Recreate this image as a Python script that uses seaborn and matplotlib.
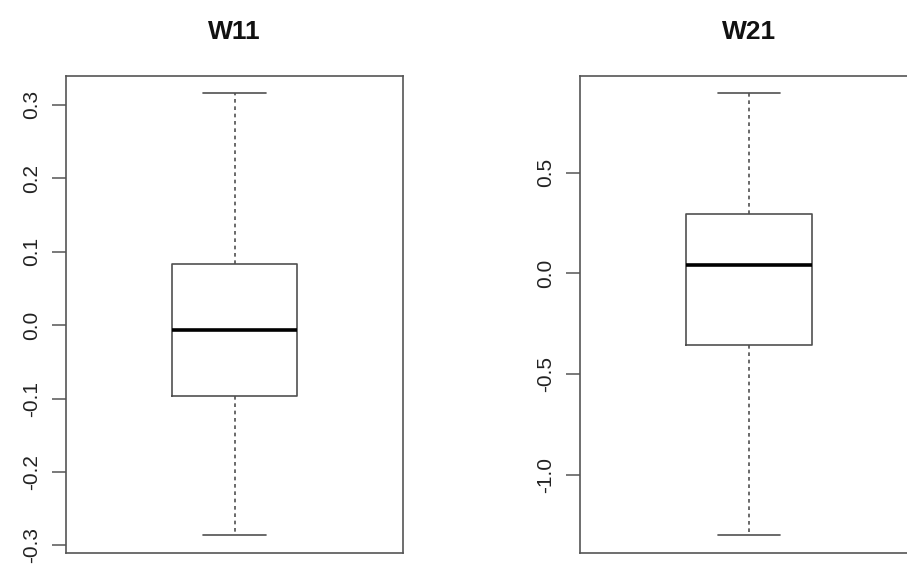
import matplotlib
matplotlib.use("Agg")
import matplotlib.pyplot as plt
import seaborn as sns
import pandas as pd

# ---- data -----------------------------------------------------------------
titles = ["W11", "W21"]
# five-number summaries (min, q1, median, q3, max)
w11_values = [-0.286, -0.096, -0.006, 0.083, 0.316]
w21_values = [-1.30, -0.357, 0.04, 0.293, 0.895]
w11_ticks = [-0.3, -0.2, -0.1, 0.0, 0.1, 0.2, 0.3]
w11_labels = ["-0.3", "-0.2", "-0.1", "0.0", "0.1", "0.2", "0.3"]
w21_ticks = [-1.0, -0.5, 0.0, 0.5]
w21_labels = ["-1.0", "-0.5", "0.0", "0.5"]

sns.set_style("white")
plt.rcParams["font.family"] = ["Liberation Sans", "DejaVu Sans"]

W, H = 907, 565
fig = plt.figure(figsize=(W / 100, H / 100), dpi=100)

frames = [(66, 75.5, 337, 477.2), (580, 75.5, 338, 477.2)]
panels = [
    (w11_values, w11_ticks, w11_labels),
    (w21_values, w21_ticks, w21_labels),
]

line_col = "#505050"
for (x0, y0, w, h), title, (vals, ticks, labels) in zip(frames, titles, panels):
    ax = fig.add_axes([x0 / W, (H - y0 - h) / H, w / W, h / H])
    df = pd.DataFrame({"value": vals})
    sns.boxplot(
        data=df, y="value", ax=ax, width=0.4, whis=(0, 100),
        fill=False, color=line_col, linewidth=1.2, showfliers=False,
        medianprops=dict(color="black", linewidth=2.6),
        whiskerprops=dict(color=line_col, linestyle=(0, (2.2, 2.2))),
        capprops=dict(color=line_col),
    )
    lo, hi = min(vals), max(vals)
    pad = 0.04 * (hi - lo)
    ax.set_ylim(lo - pad, hi + pad)
    ax.set_xlim(-0.54, 0.54)
    ax.set_xticks([])
    ax.set_xlabel("")
    ax.set_ylabel("")
    ax.set_yticks(ticks)
    ax.set_yticklabels(labels)
    ax.tick_params(axis="y", direction="out", length=10, width=1.1,
                   color="#555555", pad=8, labelsize=15, labelcolor="#222222",
                   left=True)
    for lab in ax.get_yticklabels():
        lab.set_rotation(90)
        lab.set_va("center")
    for s in ax.spines.values():
        s.set_visible(True)
        s.set_color("#555555")
        s.set_linewidth(1.2)
    ax.set_title(title, fontsize=19, fontweight="bold", pad=26, color="#111111")

fig.savefig("out.png", dpi=100)
